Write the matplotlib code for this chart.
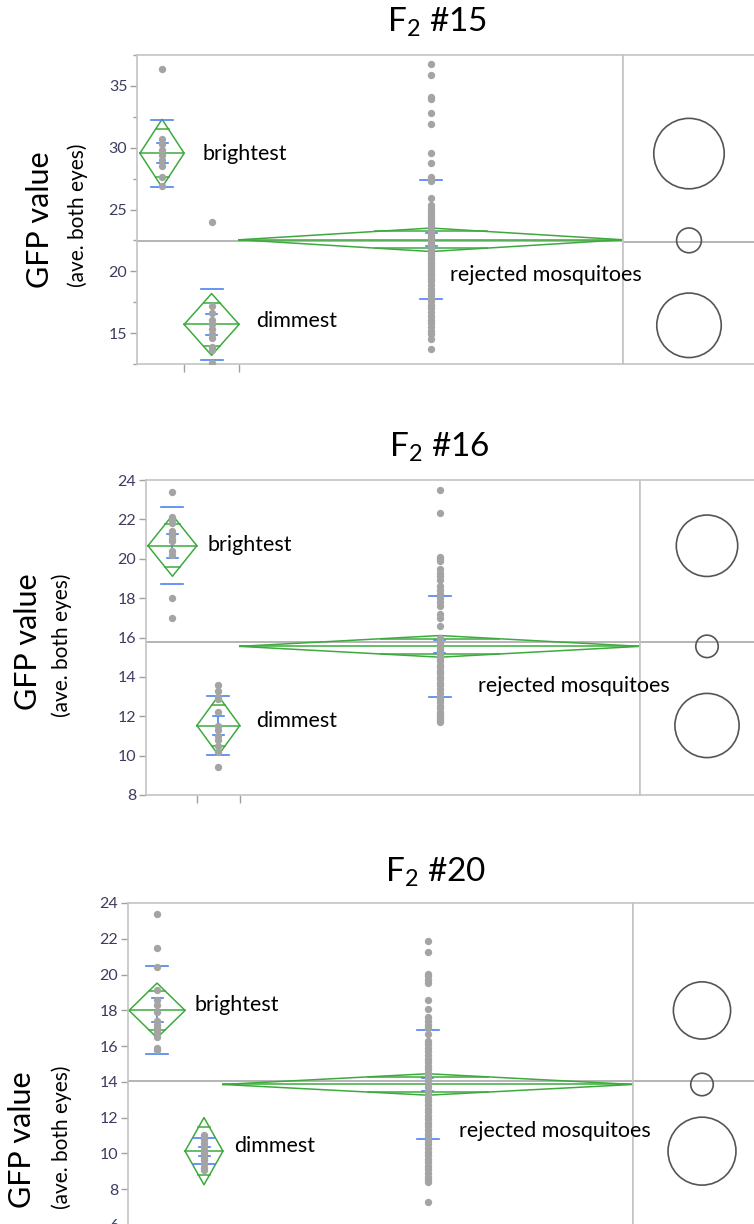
import numpy as np
import matplotlib
matplotlib.use('Agg')
import matplotlib.pyplot as plt
from matplotlib.patches import Circle

plt.rcParams['font.family'] = ['Lato', 'DejaVu Sans']
plt.rcParams['mathtext.fontset'] = 'custom'
plt.rcParams['mathtext.rm'] = 'Lato'

W, H = 754, 1224

# ---------------- data ----------------
crosses = ['15', '16', '20']
group_names = ['brightest', 'dimmest', 'rejected mosquitoes']

# F2 #15
bright_15 = [36.4, 30.7, 30.3, 29.8, 29.4, 29.0, 28.5, 27.6, 26.9]
dim_15 = [24.0, 17.2, 16.6, 16.1, 15.7, 15.3, 14.9, 14.6, 13.9, 13.6, 12.6]
rej_15 = [36.8, 35.9, 34.1, 33.9, 32.8, 31.9, 29.6, 28.8, 27.6, 27.4, 27.3, 25.9,
          25.4, 25.1, 24.9, 24.6, 24.4, 24.2, 24.0, 23.8, 23.6, 23.4, 23.3, 23.1,
          22.9, 22.8, 22.6, 22.5, 22.3, 22.2, 22.0, 21.9, 21.7, 21.5, 21.3, 21.1,
          20.9, 20.7, 20.5, 20.3, 20.0, 19.8, 19.6, 19.4, 19.2, 18.9, 18.6, 18.3,
          18.1, 17.8, 17.6, 17.3, 17.0, 16.7, 16.4, 16.1, 15.8, 15.5, 15.2, 14.9,
          14.5, 13.7]
means_15 = [29.55, 15.7, 22.55]
ci_15 = [2.75, 2.5, 0.95]
sd_15 = [2.72, 2.87, 4.8]
se_15 = [0.8, 0.85, 0.52]
radius_15 = [2.84, 2.6, 1.0]
grand_15 = 22.42

# F2 #16
bright_16 = [23.4, 22.1, 22.0, 21.8, 21.4, 21.2, 21.0, 20.9, 20.4, 20.2, 18.0, 17.0]
dim_16 = [13.6, 13.3, 13.0, 12.9, 12.2, 11.5, 11.3, 11.0, 10.8, 10.5, 10.2, 9.4]
rej_16 = [23.5, 22.3, 20.1, 20.0, 19.9, 19.5, 19.3, 19.1, 18.9, 18.6, 18.4, 18.2,
          18.0, 17.8, 17.6, 17.2, 17.0, 16.6, 16.0, 15.9, 15.8, 15.7, 15.6, 15.5,
          15.4, 15.3, 15.2, 15.1, 15.0, 14.9, 14.8, 14.6, 14.5, 14.3, 14.2, 14.0,
          13.9, 13.7, 13.6, 13.4, 13.2, 13.0, 12.9, 12.7, 12.5, 12.4, 12.2, 12.1,
          12.0, 11.9, 11.8, 11.7]
means_16 = [20.66, 11.53, 15.55]
ci_16 = [1.55, 1.5, 0.55]
sd_16 = [1.95, 1.48, 2.55]
se_16 = [0.6, 0.46, 0.32]
radius_16 = [1.56, 1.63, 0.57]
grand_16 = 15.78

# F2 #20
bright_20 = [23.4, 21.5, 20.4, 19.15, 18.6, 18.3, 17.9, 17.4, 17.2, 17.0, 16.8,
             16.5, 15.9, 15.8]
dim_20 = [11.0, 10.8, 10.6, 10.4, 10.2, 10.0, 9.8, 9.6, 9.4, 9.2, 9.05]
rej_20 = [21.9, 21.25, 20.05, 19.9, 19.7, 19.5, 18.55, 18.05, 17.6, 17.4, 17.2,
          17.0, 16.7, 16.3, 16.1, 15.9, 15.7, 15.5, 15.3, 15.1, 14.9, 14.7, 14.5,
          14.3, 14.1, 13.9, 13.7, 13.5, 13.3, 13.1, 12.9, 12.7, 12.5, 12.3, 12.1,
          11.9, 11.7, 11.5, 11.3, 11.1, 10.9, 10.7, 10.5, 10.3, 10.1, 9.9, 9.7,
          9.5, 9.3, 9.1, 8.9, 8.7, 8.5, 8.4, 7.3]
means_20 = [17.99, 10.12, 13.85]
ci_20 = [1.53, 1.88, 0.6]
sd_20 = [2.46, 0.72, 3.05]
se_20 = [0.67, 0.25, 0.35]
radius_20 = [1.6, 1.9, 0.63]
grand_20 = 14.03

# ---------------- layout (pixels) ----------------
# box: left spine, divider, top, bottom
layout = [
    dict(box=(137, 623, 55, 364), ylim=(12.58, 37.5), ticks=np.arange(15, 36, 5),
         minor=np.arange(12.5, 38, 2.5), edges=[0.006, 0.097, 0.21, 1.0], cx=689,
         title=(437, 22), lab=[(203, 154), (256, 321), (450, 275)],
         ylab=[(40, 220), (78, 215)]),
    dict(box=(146, 640, 480, 795), ylim=(8, 24), ticks=np.arange(8, 25, 2),
         minor=None, edges=[0.004, 0.103, 0.19, 1.0], cx=707,
         title=(439, 447), lab=[(207, 545), (256, 721), (478, 686)],
         ylab=[(28, 642), (62, 645)]),
    dict(box=(128, 633, 903, 1235), ylim=(5.43, 24.0), ticks=np.arange(6, 25, 2),
         minor=None, edges=[0.002, 0.113, 0.188, 1.0], cx=702,
         title=(436, 872), lab=[(195, 1005), (234, 1146), (459, 1131)],
         ylab=[(22, 1140), (62, 1137)]),
]

panels = [
    ([bright_15, dim_15, rej_15], means_15, ci_15, sd_15, se_15, radius_15, grand_15),
    ([bright_16, dim_16, rej_16], means_16, ci_16, sd_16, se_16, radius_16, grand_16),
    ([bright_20, dim_20, rej_20], means_20, ci_20, sd_20, se_20, radius_20, grand_20),
]

green = '#3daa3d'
blue = '#4d84ee'
dot = '#a4a4a4'
frame = '#c4c4c4'

fig = plt.figure(figsize=(W / 100, H / 100), dpi=100)


def fx(px):
    return px / W


def fy(py):
    return 1 - py / H


for cross, lay, (pts, means, cis, sds, ses, radii, grand) in zip(crosses, layout, panels):
    l, r, t, b = lay['box']
    ax = fig.add_axes([fx(l), fy(b), (r - l) / W, (b - t) / H])
    ax.set_xlim(0, 1)
    ax.set_ylim(*lay['ylim'])
    for s in ax.spines.values():
        s.set_color(frame)
        s.set_linewidth(1.2)
    ax.set_yticks(lay['ticks'])
    if lay['minor'] is not None:
        ax.set_yticks(lay['minor'], minor=True)
    ax.tick_params(axis='y', which='major', direction='out', length=5, width=1,
                   color='#a0a0a0', labelsize=11.5, labelcolor='#3c3c60', pad=2)
    ax.tick_params(axis='y', which='minor', direction='out', length=3, width=1,
                   color='#a0a0a0')
    edges = lay['edges']
    ax.set_xticks(edges[1:-1])
    ax.set_xticklabels([])
    ax.tick_params(axis='x', direction='out', length=6, width=1, color='#a0a0a0')
    ax.axhline(grand, color='#a8a8a8', lw=1.2, zorder=1)

    axw = r - l
    for i in range(3):
        x0, x1 = edges[i], edges[i + 1]
        xc = (x0 + x1) / 2
        m, ci, sd, se = means[i], cis[i], sds[i], ses[i]
        # means diamond with overlap marks
        ax.plot([x0, xc, x1, xc, x0], [m, m + ci, m, m - ci, m], color=green, lw=1.1, zorder=2)
        ax.plot([x0, x1], [m, m], color=green, lw=1.1, zorder=2)
        inset = (x1 - x0) / 2 * 0.707
        for yy in (m + ci * 0.707, m - ci * 0.707):
            ax.plot([x0 + inset, x1 - inset], [yy, yy], color=green, lw=1.1, zorder=2)
        # std dev lines
        h = 11 / axw
        for yy in (m + sd, m - sd):
            ax.plot([xc - h, xc + h], [yy, yy], color=blue, lw=1.2, zorder=2.5)
        # mean error bar
        hc = 5.5 / axw
        ax.plot([xc, xc], [m - se, m + se], color=blue, lw=1.2, zorder=2.5)
        for yy in (m + se, m - se):
            ax.plot([xc - hc, xc + hc], [yy, yy], color=blue, lw=1.2, zorder=2.5)
        ax.scatter([xc] * len(pts[i]), pts[i], s=28, color=dot, linewidths=0, zorder=3)

    # comparison circles panel
    axc = fig.add_axes([fx(r), fy(b), (W + 10 - r) / W, (b - t) / H])
    axc.set_ylim(*lay['ylim'])
    ppu = (b - t) / (lay['ylim'][1] - lay['ylim'][0])
    axc.set_xlim(0, (W + 10 - r) / ppu)
    axc.set_xticks([])
    axc.set_yticks([])
    for s in axc.spines.values():
        s.set_color(frame)
        s.set_linewidth(1.2)
    axc.axhline(grand, color='#a8a8a8', lw=1.2, zorder=1)
    for m, rad in zip(means, radii):
        axc.add_patch(Circle(((lay['cx'] - r) / ppu, m), rad, fill=False,
                             edgecolor='#555555', lw=1.2, zorder=2))

    # texts
    tx, ty = lay['title']
    fig.text(fx(tx), fy(ty), r'F$_2$ #' + cross, ha='center', va='center', fontsize=24)
    for name, (lx, ly) in zip(group_names, lay['lab']):
        fig.text(fx(lx), fy(ly), name, ha='left', va='center', fontsize=15.5)
    (gx, gy), (ax2, ay2) = lay['ylab']
    fig.text(fx(gx), fy(gy), 'GFP value', rotation=90, ha='center', va='center', fontsize=22)
    fig.text(fx(ax2), fy(ay2), '(ave. both eyes)', rotation=90, ha='center', va='center',
             fontsize=15)

fig.savefig('out.png', dpi=100)
